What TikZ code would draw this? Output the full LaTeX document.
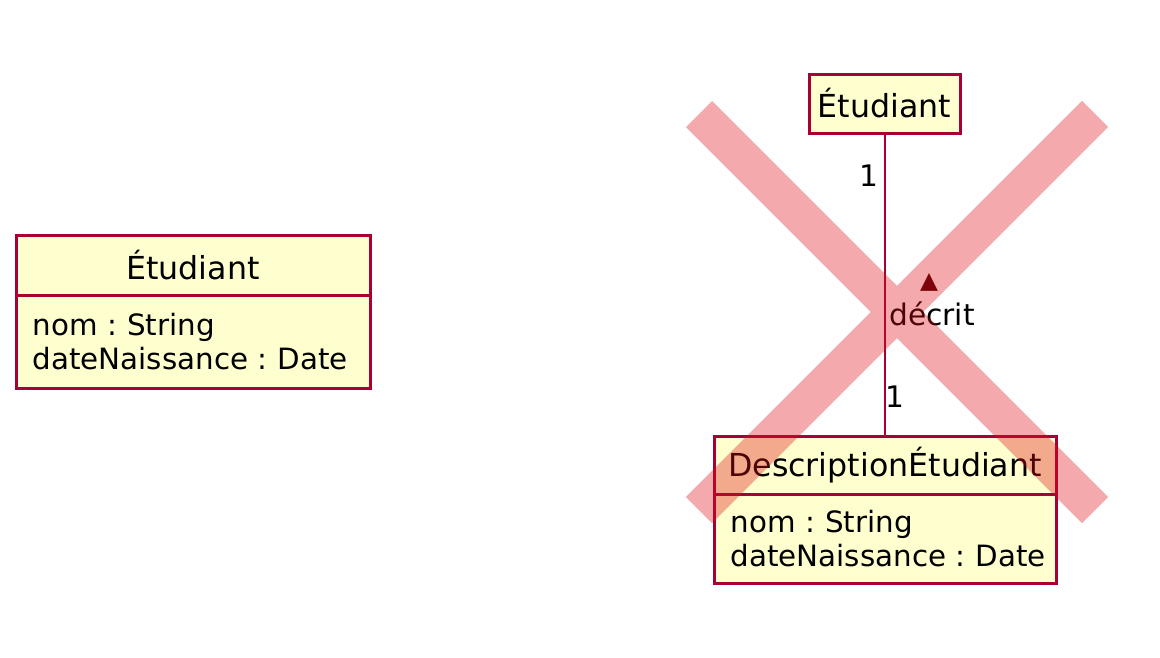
\documentclass[tikz,border=0pt]{standalone}
\usepackage{fontspec}
\setmainfont{DejaVu Sans}
\usepackage{xcolor}
\usepackage{tikz}
\usetikzlibrary{positioning}
\definecolor{umlfill}{HTML}{FEFECE}
\definecolor{umlborder}{HTML}{A80036}
\definecolor{arrowred}{HTML}{4A0008}
\definecolor{crossred}{RGB}{223,12,18}
\tikzset{classhead/.style={draw=umlborder, fill=umlfill, line width=0.9pt,
        inner sep=0pt, font=\fontsize{9.5}{11}\selectfont},
    classbody/.style={draw=umlborder, fill=umlfill, line width=0.9pt,
        inner xsep=5pt, inner ysep=0pt, align=left,
        font=\fontsize{8.8}{10.2}\selectfont},
    assoc/.style={draw=umlborder, line width=0.6pt},
    mult/.style={inner sep=0pt, font=\fontsize{8.9}{10.2}\selectfont},
    crossbar/.style={draw=crossred, draw opacity=0.35, line width=11.1pt}}

\begin{document}
\begin{tikzpicture}[x=0.3pt, y=-0.3pt]
    \useasboundingbox (0,0) rectangle (1160,657);
    % left class
    \node[classhead, minimum width=106.2pt, minimum height=18pt] (etuHead) at (193,265) {Étudiant};
    \node[classbody, below=-0.9pt of etuHead, text width=96.2pt, minimum height=27.9pt]
        (etuBody) {nom~:~String\\dateNaissance~:~Date};
    % right diagram
    \node[classhead, minimum width=45.3pt, minimum height=17.7pt] (etuTop) at (884.5,103.5) {Étudiant};
    \node[classhead, minimum width=102.6pt, minimum height=17.4pt] (descHead) at (885,465) {DescriptionÉtudiant};
    \node[classbody, below=-0.9pt of descHead, text width=92.6pt, minimum height=26.7pt]
        (descBody) {nom~:~String\\dateNaissance~:~Date};
    \draw[assoc] (etuTop.south) -- (etuTop.south |- descHead.north);
    \node[mult] (multTop) at (869,176) {1};
    \node[mult] (multBottom) at (895,397) {1};
    \node[inner sep=0pt, text=arrowred, font=\fontsize{7}{8}\selectfont] (dirArrow) at (929,282) {▲};
    \node[mult] (assocName) at (932,314) {décrit};
    % cross over it
    \coordinate (crossA1) at (699,114);
    \coordinate (crossA2) at (1095,510);
    \coordinate (crossB1) at (1095,114);
    \coordinate (crossB2) at (699,510);
    \draw[crossbar] (crossA1) -- (crossA2) (crossB1) -- (crossB2);
\end{tikzpicture}
\end{document}
